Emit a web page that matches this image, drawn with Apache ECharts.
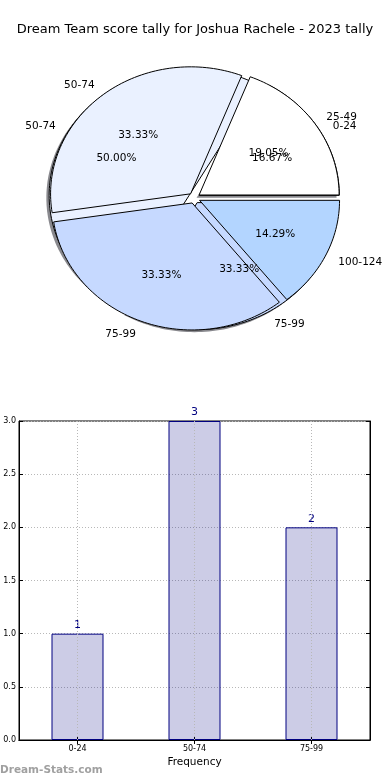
<!DOCTYPE html>
<html>
<head>
<meta charset="utf-8">
<script src="https://cdn.jsdelivr.net/npm/echarts@6/dist/echarts.min.js"></script>
<style>
html,body{margin:0;padding:0;background:#fff;}
#chart{width:390px;height:780px;}
</style>
</head>
<body>
<div id="chart"></div>
<script>
const chartTitle = 'Dream Team score tally for Joshua Rachele - 2023 tally';
const pie1Labels = ['0-24', '50-74', '75-99'];
const pie1Values = [1, 3, 2];
const pie2Labels = ['25-49', '50-74', '75-99', '100-124'];
const pie2Values = [4, 7, 7, 3];
const barCategories = ['0-24', '50-74', '75-99'];
const barValues = [1, 3, 2];
const barAxisName = 'Frequency';
const watermark = 'Dream-Stats.com';

const sliceColors = ['#ffffff', '#eaf1ff', '#c6d9ff', '#b3d5ff'];
const EXPLODE = 0.042;
const FONT = 'DejaVu Sans';

function layout(values) {
  const total = values.reduce((a, b) => a + b, 0);
  let a = 0;
  return values.map(v => {
    const a0 = a;
    a += v / total * 360;
    return { a0: a0, a1: a, pct: (v / total * 100).toFixed(2) + '%' };
  });
}
const pie1Layout = layout(pie1Values);
const pie2Layout = layout(pie2Values);

function wedgePoints(api, a0, a1, ex, sx, sy) {
  const mid = (a0 + a1) / 2 * Math.PI / 180;
  const ox = ex * Math.cos(mid) + sx, oy = ex * Math.sin(mid) + sy;
  const pts = [api.coord([ox, oy])];
  const n = Math.max(2, Math.ceil((a1 - a0) / 1.5));
  for (let i = 0; i <= n; i++) {
    const a = (a0 + (a1 - a0) * i / n) * Math.PI / 180;
    pts.push(api.coord([ox + Math.cos(a), oy + Math.sin(a)]));
  }
  return pts;
}

function wedgeSeries(lay, shadow) {
  return {
    type: 'custom',
    coordinateSystem: 'cartesian2d',
    xAxisIndex: 0, yAxisIndex: 0,
    silent: true,
    data: lay.map((d, i) => [d.a0, d.a1, i]),
    renderItem: function (params, api) {
      const a0 = api.value(0), a1 = api.value(1), i = api.value(2);
      if (shadow) {
        return {
          type: 'polygon',
          shape: { points: wedgePoints(api, a0, a1, EXPLODE, -0.02, -0.02) },
          style: { fill: 'rgba(40,40,50,0.55)', stroke: 'none' }
        };
      }
      return {
        type: 'polygon',
        shape: { points: wedgePoints(api, a0, a1, EXPLODE, 0, 0) },
        style: { fill: sliceColors[i % sliceColors.length], stroke: '#000', lineWidth: 1 }
      };
    }
  };
}

const labelItems = [];
[[pie1Layout, pie1Labels], [pie2Layout, pie2Labels]].forEach(([lay, names]) => {
  lay.forEach((d, i) => {
    labelItems.push({ mid: (d.a0 + d.a1) / 2, text: names[i], kind: 'name' });
    labelItems.push({ mid: (d.a0 + d.a1) / 2, text: d.pct, kind: 'pct' });
  });
});

const labelSeries = {
  type: 'custom',
  coordinateSystem: 'cartesian2d',
  xAxisIndex: 0, yAxisIndex: 0,
  silent: true,
  z: 5,
  data: labelItems.map((d, i) => [d.mid, i]),
  renderItem: function (params, api) {
    const item = labelItems[api.value(1)];
    const m = api.value(0) * Math.PI / 180;
    const dist = item.kind === 'name' ? 1.1 : 0.6;
    const x = EXPLODE * Math.cos(m) + dist * Math.cos(m);
    const y = EXPLODE * Math.sin(m) + dist * Math.sin(m);
    const p = api.coord([x, y]);
    let align = 'center';
    if (item.kind === 'name') align = x > 0 ? 'left' : 'right';
    return {
      type: 'text',
      x: p[0], y: p[1] + 1,
      style: {
        text: item.text, fill: '#000', align: align, verticalAlign: 'middle',
        font: '10.5px "' + FONT + '"'
      }
    };
  }
};

const chart = echarts.init(document.getElementById('chart'), null, { renderer: 'canvas' });
const dottedStyle = { color: '#b8b8b8', type: [1, 2], width: 1 };

chart.setOption({
  animation: false,
  backgroundColor: '#fff',
  title: {
    text: chartTitle, left: 'center', top: 18,
    textStyle: { fontFamily: FONT, fontSize: 13, fontWeight: 'normal', color: '#000' }
  },
  graphic: [{
    type: 'text', left: 0, top: 765,
    style: { text: watermark, fill: '#a0a0a0', font: 'bold 10.5px "' + FONT + '"' }
  }],
  grid: [
    { left: 54.25, width: 280, top: 71, height: 254, show: false },
    { left: 19, right: 20, top: 421, bottom: 40, show: true, borderColor: '#000', borderWidth: 1, backgroundColor: 'transparent' }
  ],
  xAxis: [
    { gridIndex: 0, type: 'value', min: -1, max: 1, show: false },
    {
      gridIndex: 1, type: 'category', data: barCategories, position: 'bottom',
      name: barAxisName, nameLocation: 'middle', nameGap: 17,
      nameTextStyle: { fontFamily: FONT, fontSize: 10.5, color: '#000' },
      axisLine: { show: true, lineStyle: { color: '#000', width: 1 } },
      axisTick: { show: true, inside: true, alignWithLabel: true, length: 4, lineStyle: { color: '#000' } },
      axisLabel: { fontFamily: FONT, fontSize: 8, color: '#000', margin: 5 },
      splitLine: { show: false }
    },
    {
      gridIndex: 1, type: 'category', data: barCategories, position: 'top',
      axisLine: { show: true, lineStyle: { color: '#000', width: 1 } },
      axisTick: { show: true, inside: true, alignWithLabel: true, length: 4, lineStyle: { color: '#000' } },
      axisLabel: { show: false }, splitLine: { show: false }
    }
  ],
  yAxis: [
    { gridIndex: 0, type: 'value', min: -1, max: 1, show: false },
    {
      gridIndex: 1, type: 'value', min: 0, max: 3, interval: 0.5, position: 'left',
      axisLine: { show: true, lineStyle: { color: '#000', width: 1 } },
      axisTick: { show: true, inside: true, length: 4, lineStyle: { color: '#000' } },
      axisLabel: { fontFamily: FONT, fontSize: 8, color: '#000', margin: 3, formatter: v => v.toFixed(1) },
      splitLine: { show: true, lineStyle: dottedStyle }
    },
    {
      gridIndex: 1, type: 'value', min: 0, max: 3, interval: 0.5, position: 'right',
      axisLine: { show: true, lineStyle: { color: '#000', width: 1 } },
      axisTick: { show: true, inside: true, length: 4, lineStyle: { color: '#000' } },
      axisLabel: { show: false }, splitLine: { show: false }
    }
  ],
  series: [
    wedgeSeries(pie1Layout, true),
    wedgeSeries(pie1Layout, false),
    wedgeSeries(pie2Layout, false),
    labelSeries,
    {
      type: 'bar', xAxisIndex: 1, yAxisIndex: 1,
      data: barValues, barWidth: 52,
      itemStyle: { color: 'rgba(0,0,128,0.2)', borderColor: '#000080', borderWidth: 1 },
      label: { show: true, position: 'top', distance: 3, color: '#000080', fontFamily: FONT, fontSize: 11 },
      markLine: {
        silent: true, symbol: 'none', animation: false,
        label: { show: false },
        lineStyle: dottedStyle,
        data: barCategories.map(c => ({ xAxis: c }))
      }
    }
  ]
});
</script>
</body>
</html>
